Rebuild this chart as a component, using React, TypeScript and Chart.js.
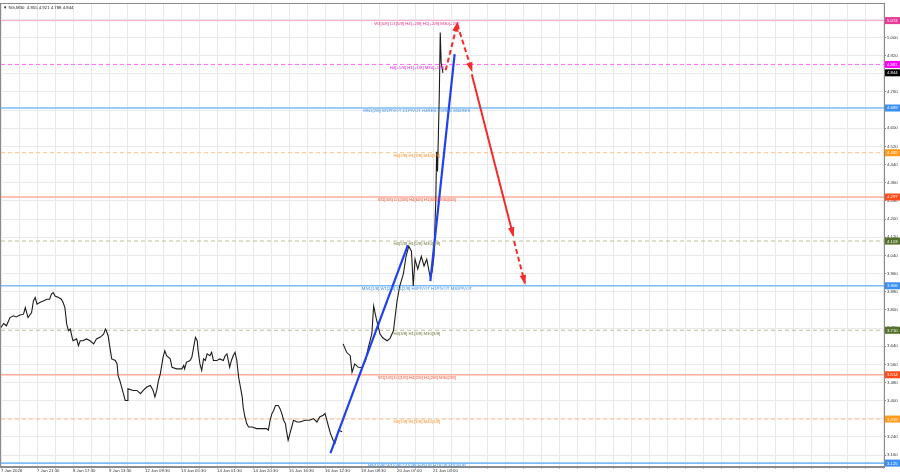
import React, { useEffect, useRef } from 'react';
import { Chart, registerables } from 'chart.js';

Chart.register(...registerables);

const FONT = 'Liberation Sans, Arial, sans-serif';
const symbolHeader = '▼ NG,M30  4.855 4.921 4.788 4.844';

const timeLabels = ['7 Jan 2026', '7 Jan 21:30', '8 Jan 17:30', '9 Jan 13:30', '12 Jan 09:30', '13 Jan 05:30', '14 Jan 01:30', '14 Jan 20:30', '15 Jan 16:30', '16 Jan 12:30', '19 Jan 08:30', '20 Jan 07:00', '21 Jan 03:00'];
const barsPerLabel = 40;
const barsPerGrid = 20;
const xMax = 981;
const yMin = 3.11;
const yMax = 5.149;
const yTickValues = [3.16, 3.24, 3.32, 3.4, 3.48, 3.56, 3.64, 3.72, 3.8, 3.88, 3.96, 4.04, 4.12, 4.2, 4.28, 4.36, 4.44, 4.52, 4.6, 4.68, 4.76, 4.84, 4.92, 5.0, 5.08];

const priceBars = [0,3,6,10,14,17,21,25,27,30,34,36,38,40,43,47,51,54,56,58,60,64,67,69,71,73,75,77,79,80,84,86,88,91,95,99,103,106,110,114,116,117,119,121,123,127,129,130,132,134,136,138,140,141,147,151,155,158,162,166,169,171,173,175,177,180,182,184,188,190,195,201,203,204,206,210,212,214,216,218,219,221,223,225,227,229,232,234,236,240,243,247,249,251,253,254,256,258,260,262,264,266,268,269,271,273,275,279,284,290,295,297,299,301,303,305,308,310,312,314,316,317,319,321,323,325,329,332,338,343,347,351,354,358,360,362,364,366,369,371,373,375,379,379.5,380,384,388,390,393,397,401,405,408,412,414,417,421,424,429,432,436,440,443,447,450,453,456,458,460,463,467,470,473,477,479,481,483,484,485,487,488,489,491];
const priceClose = [3.722,3.740,3.730,3.766,3.774,3.769,3.777,3.781,3.810,3.766,3.788,3.839,3.854,3.825,3.832,3.839,3.847,3.847,3.869,3.876,3.861,3.854,3.847,3.832,3.810,3.737,3.708,3.715,3.679,3.664,3.672,3.642,3.664,3.664,3.672,3.664,3.650,3.672,3.679,3.693,3.715,3.708,3.686,3.635,3.584,3.577,3.562,3.511,3.489,3.460,3.431,3.401,3.401,3.452,3.445,3.445,3.431,3.445,3.460,3.467,3.445,3.416,3.445,3.489,3.518,3.591,3.620,3.598,3.584,3.547,3.540,3.540,3.555,3.540,3.569,3.577,3.591,3.635,3.679,3.664,3.620,3.562,3.533,3.584,3.577,3.606,3.598,3.613,3.577,3.577,3.584,3.577,3.598,3.606,3.569,3.547,3.577,3.598,3.613,3.577,3.503,3.460,3.416,3.372,3.328,3.299,3.284,3.284,3.277,3.277,3.277,3.270,3.314,3.343,3.358,3.379,3.379,3.365,3.343,3.314,3.299,3.270,3.226,3.255,3.284,3.314,3.306,3.306,3.314,3.314,3.321,3.306,3.328,3.336,3.343,3.314,3.284,3.255,3.226,3.212,3.241,3.270,3.263,null,3.650,3.613,3.598,3.525,3.562,3.547,3.546,3.577,3.633,3.695,3.817,3.760,3.695,3.677,3.664,3.673,3.708,3.839,3.905,3.958,4.036,4.080,4.058,3.905,4.023,3.980,4.036,3.993,4.023,3.940,3.971,4.036,4.277,4.496,4.409,4.759,5.022,4.890,4.844];
const currentPrice = 4.844;

// Murrey-style levels
const levelValues = [5.074, 4.881, 4.689, 4.492, 4.297, 4.103, 3.906, 3.710, 3.514, 3.319, 3.125];
const levelLabels = [
  'W1[5/8] D1[5/8] H4[+2/8] H1[+2/8] M30[+2/8]',
  'H4[+1/8] H1[+1/8] M30[+1/8]',
  'MN1[2/8] W1PIVOT D1PIVOT H4RES H1RES M30RES',
  'H4[7/8] H1[7/8] M30[7/8]',
  'W1[3/8] D1[3/8] H4[6/8] H1[6/8] M30[6/8]',
  'H4[5/8] H1[5/8] M30[5/8]',
  'MN1[1/8] W1[2/8] D1[2/8] H4PIVOT H1PIVOT M30PIVOT',
  'H4[3/8] H1[3/8] M30[3/8]',
  'W1[1/8] D1[1/8] H4[2/8] H1[2/8] M30[2/8]',
  'H4[1/8] H1[1/8] M30[1/8]',
  'MN1[0/8] W1[0/8] D1[0/8] H4SUP H1SUP M30SUP',
];
const levelDashed = [false, true, false, true, false, true, false, true, false, true, false];
const levelLineColors = ['#f5a8cc', '#ff66ff', '#7dbcf5', '#ffbe80', '#ffad98', '#bdbd9c', '#7dbcf5', '#bdbd9c', '#ffad98', '#ffbe80', '#7dbcf5'];
const levelWidths = [1, 1, 1.6, 1, 1.6, 1, 1.6, 1, 1.6, 1, 1.6];
const levelBoxColors = ['#e83c96', '#ff00ff', '#3b8ff2', '#ff9a1a', '#ff4a1c', '#55702a', '#3b8ff2', '#55702a', '#ff4a1c', '#ff9a1a', '#3b8ff2'];
const levelTextColors = ['#e0308a', '#e020e0', '#3a8ae8', '#ff8c1a', '#ff4a2a', '#6b7a3a', '#3a8ae8', '#6b7a3a', '#ff4a2a', '#ff8c1a', '#3a8ae8'];
const levelLabelBar = 462;

// Trend lines (blue)
const trend1Bars = [366, 452];
const trend1Prices = [3.169, 4.085];
const trend2Bars = [477, 504];
const trend2Prices = [3.927, 4.926];

// Forecast arrows (red)
const fc1Bars = [494, 507];
const fc1Prices = [4.855, 5.061];
const fc2Bars = [507, 523];
const fc2Prices = [5.057, 4.855];
const fc3Bars = [523, 569];
const fc3Prices = [4.838, 4.128];
const fc4Bars = [570, 582];
const fc4Prices = [4.102, 3.918];

const toXY = (xs: number[], ys: (number | null)[]) => xs.map((x, i) => ({ x, y: ys[i] }));

const overlayPlugin = {
  id: 'overlay',
  afterDatasetsDraw(chart: any) {
    const ctx = chart.ctx;
    const xs = chart.scales.x;
    const ys = chart.scales.y;
    const area = chart.chartArea;
    // arrowheads
    chart.data.datasets.forEach((ds: any, i: number) => {
      if (!ds.arrow) return;
      const pts = chart.getDatasetMeta(i).data;
      const a = pts[pts.length - 2];
      const b = pts[pts.length - 1];
      const ang = Math.atan2(b.y - a.y, b.x - a.x);
      const L = 8, W = 3.2;
      const c = Math.cos(ang), s = Math.sin(ang);
      ctx.save();
      ctx.fillStyle = ds.borderColor;
      ctx.beginPath();
      ctx.moveTo(b.x + c * 2, b.y + s * 2);
      ctx.lineTo(b.x - L * c + W * s, b.y - L * s - W * c);
      ctx.lineTo(b.x - L * c - W * s, b.y - L * s + W * c);
      ctx.closePath();
      ctx.fill();
      ctx.restore();
    });
    // level labels
    ctx.save();
    ctx.beginPath();
    ctx.rect(area.left, area.top, area.right - area.left, area.bottom - area.top);
    ctx.clip();
    ctx.font = `4.3px ${FONT}`;
    ctx.textAlign = 'center';
    ctx.textBaseline = 'top';
    levelValues.forEach((v, i) => {
      ctx.fillStyle = levelTextColors[i];
      ctx.fillText(levelLabels[i], xs.getPixelForValue(levelLabelBar), ys.getPixelForValue(v) + 1);
    });
    ctx.restore();
  },
  afterDraw(chart: any) {
    const ctx = chart.ctx;
    const ys = chart.scales.y;
    const area = chart.chartArea;
    ctx.save();
    // frame
    ctx.strokeStyle = '#8a8a8a';
    ctx.lineWidth = 1;
    ctx.strokeRect(Math.round(area.left) - 0.5, Math.round(area.top) - 0.5, Math.round(area.right - area.left) + 1, Math.round(area.bottom - area.top) + 1);
    // value boxes
    const drawBox = (v: number, color: string) => {
      const py = ys.getPixelForValue(v);
      ctx.fillStyle = color;
      ctx.fillRect(area.right + 1, py - 3.5, 15, 7);
      ctx.fillStyle = '#ffffff';
      ctx.font = `4.3px ${FONT}`;
      ctx.textAlign = 'left';
      ctx.textBaseline = 'middle';
      ctx.fillText(v.toFixed(3), area.right + 3, py + 0.3);
    };
    levelValues.forEach((v, i) => drawBox(v, levelBoxColors[i]));
    drawBox(currentPrice, '#000000');
    // header
    ctx.fillStyle = '#222';
    ctx.font = `4.3px ${FONT}`;
    ctx.textAlign = 'left';
    ctx.textBaseline = 'middle';
    ctx.fillText(symbolHeader, area.left + 2, area.top + 4);
    ctx.restore();
  },
};

export default function App() {
  const ref = useRef<HTMLCanvasElement>(null);
  useEffect(() => {
    const canvas = ref.current!;
    const xTickValues: number[] = [];
    for (let v = 0; v <= xMax; v += barsPerGrid) xTickValues.push(v);

    const levelDatasets = levelValues.map((v, i) => ({
      type: 'line',
      data: [{ x: 0, y: v }, { x: xMax, y: v }],
      borderColor: levelLineColors[i],
      borderWidth: levelWidths[i],
      borderDash: levelDashed[i] ? [4, 3] : [],
      pointRadius: 0,
      order: 10,
    }));
    const seg = (xs: number[], ps: number[], color: string, width: number, dash: number[], arrow: boolean, order: number) => ({
      type: 'line',
      data: toXY(xs, ps),
      borderColor: color,
      borderWidth: width,
      borderDash: dash,
      pointRadius: 0,
      arrow,
      order,
    });

    const chart = new Chart(canvas, {
      type: 'line',
      data: {
        datasets: [
          ...levelDatasets,
          {
            type: 'line',
            data: toXY(priceBars, priceClose),
            borderColor: '#1c1c1c',
            borderWidth: 1.1,
            pointRadius: 0,
            spanGaps: false,
            tension: 0,
            order: 5,
          },
          seg(trend1Bars, trend1Prices, '#2040ee', 2.2, [], false, 3),
          seg(trend2Bars, trend2Prices, '#2040ee', 2.2, [], false, 3),
          seg(fc1Bars, fc1Prices, '#f52a2a', 2, [5, 3], true, 1),
          seg(fc2Bars, fc2Prices, '#f52a2a', 2, [5, 3], true, 1),
          seg(fc3Bars, fc3Prices, '#f52a2a', 2, [], true, 1),
          seg(fc4Bars, fc4Prices, '#f52a2a', 2, [5, 3], true, 1),
        ] as any,
      },
      options: {
        responsive: false,
        animation: false,
        devicePixelRatio: 1,
        layout: { padding: { top: 1, left: 1, right: 0, bottom: 0 } },
        plugins: { legend: { display: false }, tooltip: { enabled: false } },
        scales: {
          x: {
            type: 'linear',
            min: 0,
            max: xMax,
            afterBuildTicks: (s: any) => { s.ticks = xTickValues.map((v) => ({ value: v })); },
            afterFit: (s: any) => { s.height = 7.5; },
            ticks: {
              autoSkip: false,
              maxRotation: 0,
              minRotation: 0,
              align: 'start',
              padding: 0,
              color: '#333',
              font: { size: 4.3, family: FONT },
              callback: (v: any) => {
                const n = Number(v);
                if (n % barsPerLabel !== 0) return '';
                return timeLabels[n / barsPerLabel] || '';
              },
            },
            grid: { color: '#e9e9e9', tickLength: 2, tickColor: '#888' },
            border: { color: '#8a8a8a' },
          },
          y: {
            position: 'right',
            min: yMin,
            max: yMax,
            afterBuildTicks: (s: any) => { s.ticks = yTickValues.map((v) => ({ value: v })); },
            afterFit: (s: any) => { s.width = 16; },
            ticks: {
              padding: 1,
              color: '#333',
              font: { size: 4.3, family: FONT },
              callback: (v: any) => Number(v).toFixed(3),
            },
            grid: { color: '#e9e9e9', tickLength: 2, tickColor: '#888' },
            border: { color: '#8a8a8a' },
          },
        },
      } as any,
      plugins: [overlayPlugin],
    });
    return () => chart.destroy();
  }, []);
  return (
    <div style={{ position: 'fixed', left: 0, top: 0, width: 900, height: 474, background: '#ffffff' }}>
      <canvas ref={ref} width={900} height={474} style={{ display: 'block' }} />
    </div>
  );
}
